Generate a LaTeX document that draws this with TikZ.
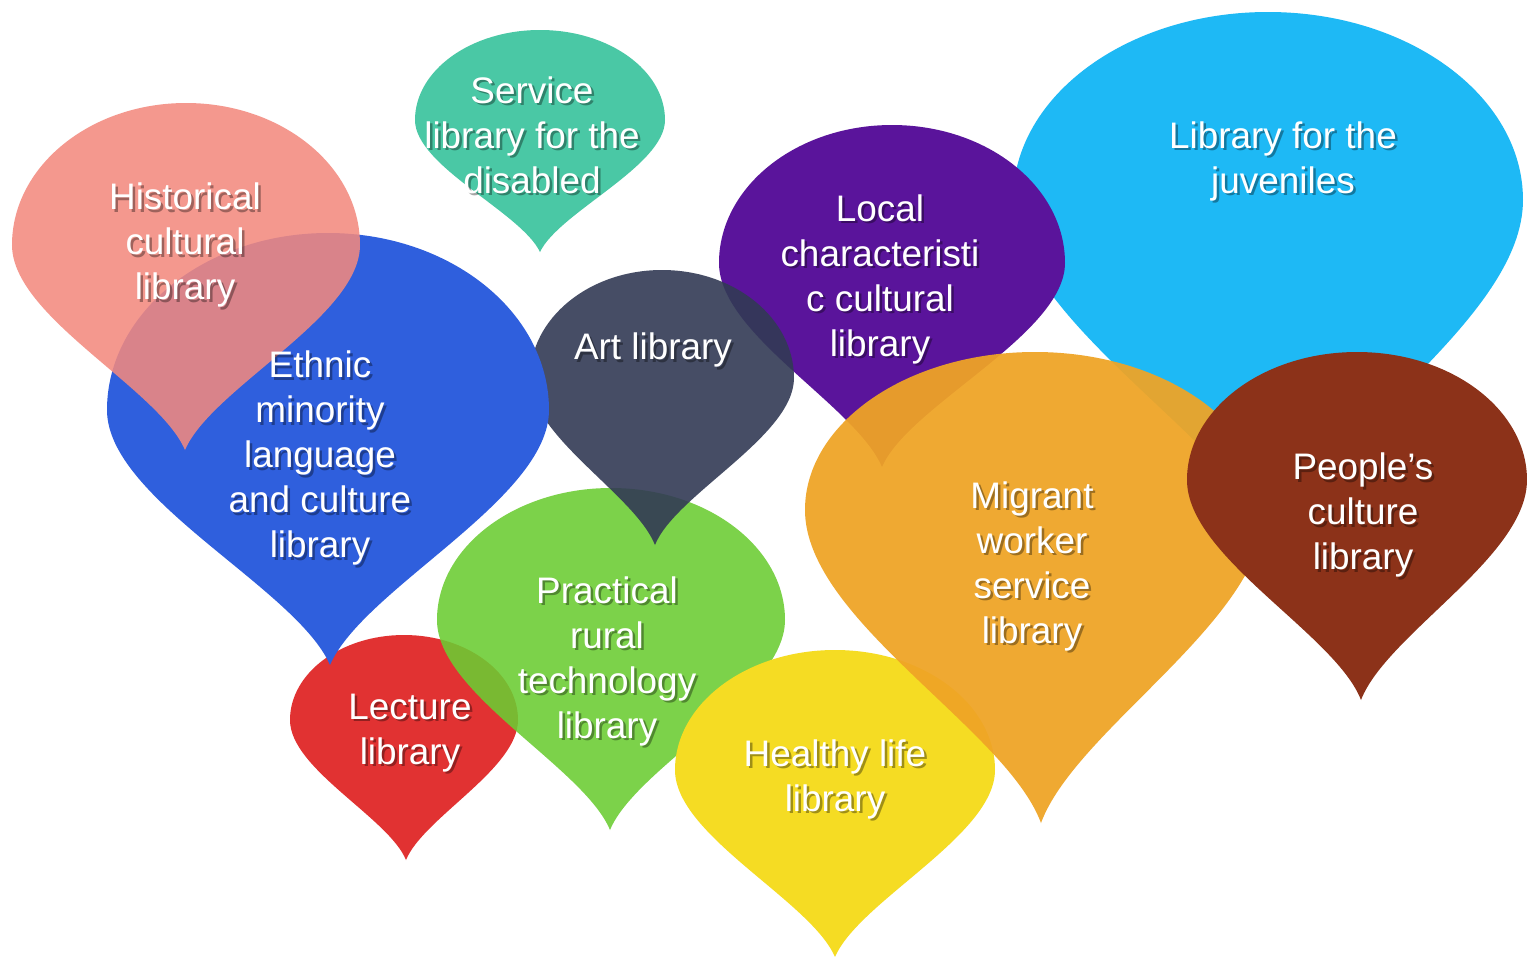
\documentclass[tikz,border=0pt]{standalone}
\usepackage{fontspec}
\setmainfont{Liberation Sans}
\usetikzlibrary{calc}
\definecolor{juvblue}{HTML}{1EB9F5}
\definecolor{lectred}{HTML}{E13232}
\definecolor{ruralgreen}{HTML}{6BCC32}
\definecolor{healthyellow}{HTML}{F5DC23}
\definecolor{localpurple}{HTML}{5A149B}
\definecolor{artslate}{HTML}{323A55}
\definecolor{ethnicblue}{HTML}{2F5FDD}
\definecolor{histpink}{HTML}{F3897E}
\definecolor{servteal}{HTML}{4AC8A5}
\definecolor{migrorange}{HTML}{EFA426}
\definecolor{peoplebrown}{HTML}{8C3219}
\def\libdrop[#1](#2,#3)(#4:#5)(#6,#7){\fill[#1] (#6,#7) .. controls ({#6-0.15*#4},{#7-0.3*(#7-#3)}) and ({#2-#4},{#3+0.35*(#7-#3)}) .. ({#2-#4},#3) arc (180:360:#4 and #5) .. controls ({#2+#4},{#3+0.35*(#7-#3)}) and ({#6+0.15*#4},{#7-0.3*(#7-#3)}) .. (#6,#7) -- cycle;}
\def\liblabel(#1)(#2,#3)#4{\node[libshadow] at ({#2+2.5},{#3+2.5}) {#4}; \node[libtext] (#1) at (#2,#3) {#4};}
\tikzset{
	libtext/.style={text=white, align=center, inner sep=0pt, font=\fontsize{10.5}{12.8}\selectfont},
	libshadow/.style={libtext, text=black, text opacity=0.35}
}
\begin{document}
\begin{tikzpicture}[x=0.1mm, y=-0.1mm]
		%%%%% START %%%%%
		\fill[white] (0, 0) rectangle (1527, 957);
		
		\libdrop[juvblue](1268, 200)(255:188)(1275, 545);
		\libdrop[lectred](404, 720)(114:85)(406, 860);
		\libdrop[ruralgreen, fill opacity=0.88](611, 620)(174:132)(610, 830);
		\libdrop[healthyellow](835, 770)(160:120)(835, 957);
		\libdrop[localpurple](892, 263)(173:138)(882, 467);
		\libdrop[artslate, fill opacity=0.9](662, 378)(132:108)(655, 545);
		\libdrop[ethnicblue](328, 410)(221:177)(330, 665);
		\libdrop[histpink, fill opacity=0.87](186, 245)(174:142)(185, 450);
		\libdrop[servteal](540, 120)(125:90)(540, 252);
		\libdrop[migrorange, fill opacity=0.94](1035, 510)(230:158)(1041, 823);
		\libdrop[peoplebrown](1357, 480)(170:128)(1361, 700);
		
		\liblabel(hist)(185, 245){Historical\\cultural\\library}
		\liblabel(serv)(532, 135){Service\\library for the\\disabled}
		\liblabel(ethnic)(320, 458){Ethnic\\minority\\language\\and culture\\library}
		\liblabel(art)(653, 350){Art library}
		\liblabel(local)(880, 279){Local\\characteristi\\c cultural\\library}
		\liblabel(juv)(1283, 161){Library for the\\juveniles}
		\liblabel(migr)(1032, 566){Migrant\\worker\\service\\library}
		\liblabel(people)(1363, 515){People’s\\culture\\library}
		\liblabel(rural)(607, 661){Practical\\rural\\technology\\library}
		\liblabel(lect)(410, 733){Lecture\\library}
		\liblabel(healthy)(835, 779){Healthy life\\library}
		%%%%% END %%%%%
\end{tikzpicture}
\end{document}
